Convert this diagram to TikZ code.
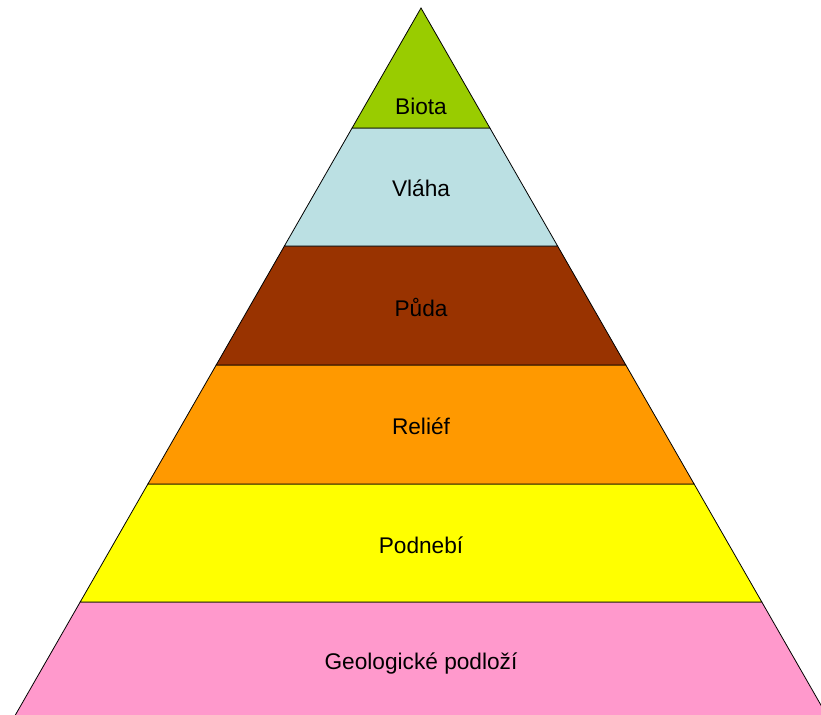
\documentclass[tikz,border=0pt]{standalone}
\usepackage{fontspec}
\setmainfont{Liberation Sans}
\definecolor{biota}{HTML}{99CC00}
\definecolor{vlaha}{HTML}{BBE0E3}
\definecolor{puda}{HTML}{993300}
\definecolor{relief}{HTML}{FF9900}
\definecolor{podnebi}{HTML}{FFFF00}
\definecolor{podlozi}{HTML}{FF99CC}
\begin{document}
\begin{tikzpicture}[x=0.75pt,y=-0.75pt,
		layer/.style={draw=black,line width=0.6pt,line join=miter},
		label/.style={font=\fontsize{17}{20}\selectfont,text=black,inner sep=0pt}]
				\useasboundingbox (0,0) rectangle (821,714);
				\clip (0,0) rectangle (821,714);
				\coordinate (T) at (421,8);
				\coordinate (L1) at (352.1,128);
				\coordinate (R1) at (489.9,128);
				\coordinate (L2) at (284.4,246);
				\coordinate (R2) at (557.6,246);
				\coordinate (L3) at (216.2,365);
				\coordinate (R3) at (625.8,365);
				\coordinate (L4) at (147.9,484);
				\coordinate (R4) at (694.1,484);
				\coordinate (L5) at (80.2,602);
				\coordinate (R5) at (761.8,602);
				\coordinate (L6) at (12.5,720);
				\coordinate (R6) at (829.5,720);
				\draw [layer,fill=podlozi] (L5) -- (R5) -- (R6) -- (L6) -- cycle;
				\draw [layer,fill=podnebi] (L4) -- (R4) -- (R5) -- (L5) -- cycle;
				\draw [layer,fill=relief] (L3) -- (R3) -- (R4) -- (L4) -- cycle;
				\draw [layer,fill=puda] (L2) -- (R2) -- (R3) -- (L3) -- cycle;
				\draw [layer,fill=vlaha] (L1) -- (R1) -- (R2) -- (L2) -- cycle;
				\draw [layer,fill=biota] (T) -- (R1) -- (L1) -- cycle;
				\node [label] (biota) at (421,106) {Biota};
				\node [label] (vlaha) at (421,188) {Vláha};
				\node [label] (puda) at (421,307) {Půda};
				\node [label] (relief) at (421,426) {Reliéf};
				\node [label] (podnebi) at (421,545) {Podnebí};
				\node [label] (podlozi) at (421,663) {Geologické podloží};
			\end{tikzpicture}
\end{document}
